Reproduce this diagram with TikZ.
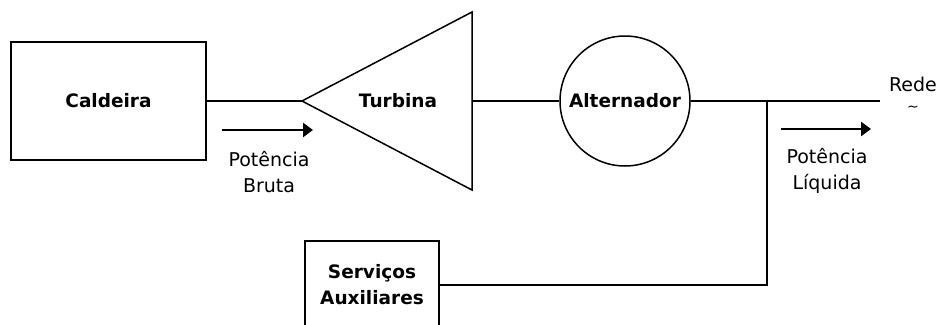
\documentclass[tikz,border=0pt]{standalone}
\usepackage{fontspec}
\setmainfont{DejaVu Sans}
\usetikzlibrary{arrows.meta}
\begin{document}
\begin{tikzpicture}[x=1pt,y=-1pt,
  line/.style={line width=1.5pt},
  blk/.style={draw, line width=1.5pt, font=\fontsize{18.5}{26}\selectfont\bfseries, align=center, inner sep=0pt},
  lbl/.style={font=\fontsize{19}{26}\selectfont, align=center, inner sep=0pt},
  flow/.style={line width=2.8pt, -{Triangle[length=10pt,width=14pt]}}]
\clip (0,0) rectangle (941,324);
% blocks
\node[blk, minimum width=195, minimum height=118] (cald) at (108.5,101) {Caldeira};
\coordinate (tip) at (302,101);
\coordinate (ttop) at (472,12);
\coordinate (tbot) at (472,190);
\coordinate (tright) at (472,101);
\draw[line, line join=miter] (tip) -- (ttop) -- (tbot) -- cycle;
\node[font=\fontsize{18.5}{26}\selectfont\bfseries, inner sep=0pt] (turb) at (398,101) {Turbina};
\node[blk, circle, minimum size=130] (alt) at (625,101) {Alternador};
\node[blk, minimum width=134, minimum height=88] (serv) at (372,285) {Serviços\\Auxiliares};
% connectors
\coordinate (rede) at (880,101);
\coordinate (j) at (767,101);
\coordinate (jb) at (767,285);
\draw[line] (cald.east) -- (tip);
\draw[line] (tright) -- (alt.west);
\draw[line] (alt.east) -- (rede);
\draw[line, line join=miter] (j) -- (jb) -- (serv.east);
% flows
\coordinate (a1s) at (222,130);
\coordinate (a1e) at (313,130);
\draw[flow] (a1s) -- (a1e);
\coordinate (a2s) at (781,129);
\coordinate (a2e) at (871,129);
\draw[flow] (a2s) -- (a2e);
\node[lbl] (pb) at (269,172) {Potência\\Bruta};
\node[lbl] (pl) at (827,171) {Potência\\Líquida};
\node[lbl] (rd) at (913,84) {Rede};
\node[font=\fontsize{14}{14}\selectfont, inner sep=0pt] (til) at (913,109) {\textasciitilde};
\end{tikzpicture}
\end{document}
